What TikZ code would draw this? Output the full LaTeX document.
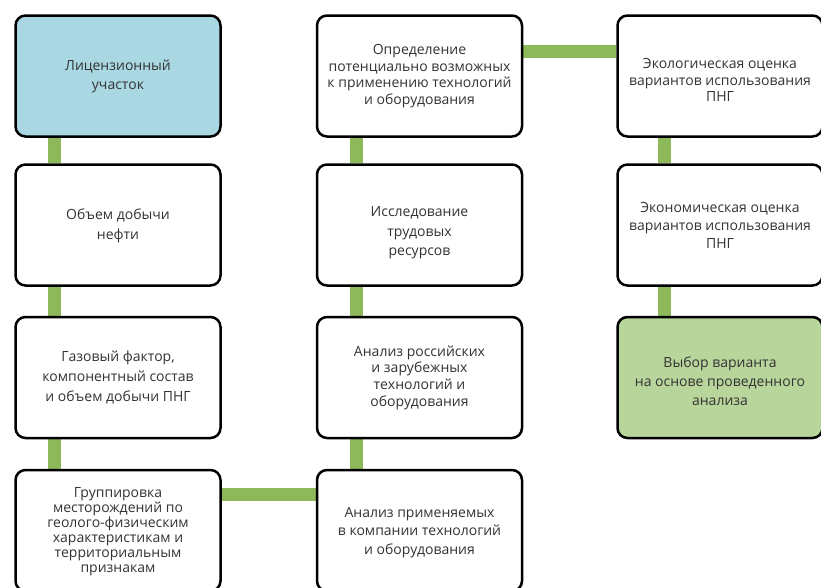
\documentclass[tikz,border=0pt]{standalone}
\usepackage{fontspec}
\setmainfont{Open Sans}
\usetikzlibrary{backgrounds}
\definecolor{conngreen}{HTML}{8DB95A}
\definecolor{boxblue}{HTML}{A9D8E3}
\definecolor{boxgreen}{HTML}{B8D59B}
\definecolor{txt}{HTML}{333333}
\tikzset{
  stepbox/.style={draw=black, line width=2.5pt, rounded corners=10pt, fill=white,
    minimum width=205pt, minimum height=121pt, inner sep=0pt},
  boxtext/.style={align=center, inner sep=0pt, text=txt, font=\fontsize{14}{19}\selectfont},
  conn/.style={draw=conngreen, line width=13pt, line cap=butt},
}
\begin{document}
\begin{tikzpicture}[x=1pt,y=-1pt]
\useasboundingbox (0,0) rectangle (821,587);
\clip (0,0) rectangle (821,587);
% column 1
\node[stepbox, fill=boxblue] (a1) at (118,76) {};
\node[boxtext] (a1t) at (a1.center) {Лицензионный\\участок};
\node[stepbox] (a2) at (118,225) {};
\node[boxtext, font=\fontsize{14}{20}\selectfont] (a2t) at ([yshift=-1pt]a2.center) {Объем добычи\\нефти};
\node[stepbox] (a3) at (118,377.5) {};
\node[boxtext, font=\fontsize{14}{20}\selectfont] (a3t) at (a3.center) {Газовый фактор,\\компонентный состав\\и объем добычи ПНГ};
\node[stepbox] (a4) at (118,530.5) {};
\node[boxtext, font=\fontsize{14}{15}\selectfont] (a4t) at ([yshift=-1pt]a4.center) {Группировка\\месторождений по\\геолого-физическим\\характеристикам и\\территориальным\\признакам};
% column 2
\node[stepbox] (b1) at (419.5,76) {};
\node[boxtext, font=\fontsize{14}{16.5}\selectfont] (b1t) at (b1.center) {Определение\\потенциально возможных\\к применению технологий\\и оборудования};
\node[stepbox] (b2) at (419.5,225) {};
\node[boxtext, font=\fontsize{14}{19.5}\selectfont] (b2t) at ([yshift=-8pt]b2.center) {Исследование\\трудовых\\ресурсов};
\node[stepbox] (b3) at (419.5,377.5) {};
\node[boxtext, font=\fontsize{14}{16.7}\selectfont] (b3t) at (b3.center) {Анализ российских\\и зарубежных\\технологий и\\оборудования};
\node[stepbox] (b4) at (419.5,530.5) {};
\node[boxtext, font=\fontsize{14}{18.5}\selectfont] (b4t) at ([yshift=-2pt]b4.center) {Анализ применяемых\\в компании технологий\\и оборудования};
% column 3
\node[stepbox] (c1) at (720,76) {};
\node[boxtext, font=\fontsize{14}{16.5}\selectfont] (c1t) at ([yshift=-4pt]c1.center) {Экологическая оценка\\вариантов использования\\ПНГ};
\node[stepbox] (c2) at (720,225) {};
\node[boxtext, font=\fontsize{14}{18}\selectfont] (c2t) at (c2.center) {Экономическая оценка\\вариантов использования\\ПНГ};
\node[stepbox, fill=boxgreen] (c3) at (720,377.5) {};
\node[boxtext] (c3t) at ([yshift=-4pt]c3.center) {Выбор варианта\\на основе проведенного\\анализа};
% connectors
\begin{scope}[on background layer]
\draw[conn] ([xshift=40pt]a1.south west) -- ([xshift=40pt]a2.north west);
\draw[conn] ([xshift=40pt]a2.south west) -- ([xshift=40pt]a3.north west);
\draw[conn] ([xshift=40pt]a3.south west) -- ([xshift=40pt]a4.north west);
\draw[conn] ([yshift=-26pt]a4.north east) -- ([yshift=-26pt]b4.north west);
\draw[conn] ([xshift=41pt]b4.north west) -- ([xshift=41pt]b3.south west);
\draw[conn] ([xshift=41pt]b3.north west) -- ([xshift=41pt]b2.south west);
\draw[conn] ([xshift=41pt]b2.north west) -- ([xshift=41pt]b1.south west);
\draw[conn] ([yshift=-37pt]b1.north east) -- ([yshift=-37pt]c1.north west);
\draw[conn] ([xshift=48pt]c1.south west) -- ([xshift=48pt]c2.north west);
\draw[conn] ([xshift=48pt]c2.south west) -- ([xshift=48pt]c3.north west);
\end{scope}
\end{tikzpicture}
\end{document}
